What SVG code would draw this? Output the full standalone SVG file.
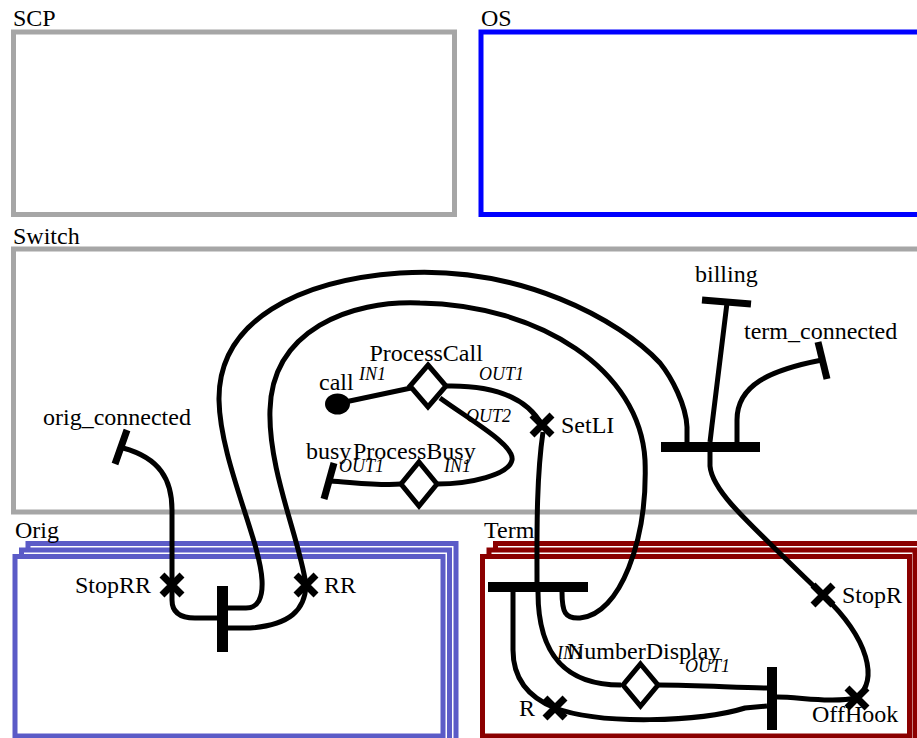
<svg xmlns="http://www.w3.org/2000/svg" width="917" height="738" viewBox="0 0 917 738" font-family="'Liberation Serif', 'DejaVu Serif', serif">
<style>
text{font-family:'Liberation Serif','DejaVu Serif',serif}
.lbl{font-size:24px;fill:#000}
.port{font-size:18px;font-style:italic;fill:#000}
.c{fill:none;stroke:#000;stroke-width:5}
.dia{fill:#fff;stroke:#000;stroke-width:5}
.x{fill:none;stroke:#000;stroke-width:7}
.t{fill:none;stroke:#000;stroke-width:7}
.gray{fill:#fff;stroke:#a6a6a6;stroke-width:5}
.os{fill:#fff;stroke:#0000ff;stroke-width:5}
.orig{fill:#fff;stroke:#5b5bc7;stroke-width:5}
.term{fill:#fff;stroke:#8b0000;stroke-width:5}
</style>
<g id="SCP">
<rect class="gray" x="13.5" y="32" width="441" height="182.5"/>
<text class="lbl" x="13" y="26">SCP</text>
</g>
<g id="OS">
<rect class="os" x="481" y="32" width="450" height="182.5"/>
<text class="lbl" x="481" y="26">OS</text>
</g>
<g id="Switch">
<rect class="gray" x="13.5" y="249" width="920" height="263"/>
<text class="lbl" x="13" y="244">Switch</text>
</g>
<g id="Orig">
<rect class="orig" x="28" y="543.5" width="428" height="200"/>
<rect class="orig" x="21.5" y="550" width="428" height="200"/>
<rect class="orig" x="15" y="556.5" width="428" height="179.5"/>
<text class="lbl" x="15" y="538">Orig</text>
</g>
<g id="Term">
<rect class="term" x="495.5" y="543.5" width="428" height="200"/>
<rect class="term" x="489" y="550" width="426" height="200"/>
<rect class="term" x="482.5" y="556.5" width="427" height="179.5"/>
<text class="lbl" x="484" y="538">Term</text>
</g>
<g id="connectors">
<path class="c" d="M345 402 L411 388"/>
<path class="c" d="M446 386 C490 385 525 395 542 425"/>
<path class="c" d="M440 398 C470 420 515 445 512 460 C509 475 470 484 437 484"/>
<path class="c" d="M401 484 C380 486 350 482 330 481"/>
<path class="c" d="M123 448 C160 458 172 480 172 510 L172 585"/>
<path class="c" d="M172 585 L172 600 C172 612 180 618 195 618 L218 618"/>
<path class="c" d="M306 585 C305 610 290 625 250 628 L226 628"/>
<path class="c" d="M226 608 L246 608 C258 608 263 598 262 580 C260 540 220 460 219 400 C218 320 300 280 400 273 C520 265 620 320 660 363 C672 378 686 405 687 427 L687 442"/>
<path class="c" d="M306 585 C300 540 268 470 270 410 C272 330 350 300 420 303 C540 305 640 370 645 460 C648 540 620 615 580 618 C565 619 562 612 562 592"/>
<path class="c" d="M727 303 L712 425 L710 442"/>
<path class="c" d="M822 360 C770 370 737 385 737 420 L737 442"/>
<path class="c" d="M710 452 L710 466 C712 490 740 515 823 595"/>
<path class="c" d="M823 595 C870 640 878 680 857 698"/>
<path class="c" d="M543 432 C536 480 537 540 537 582"/>
<path class="c" d="M538 592 C538 660 570 685 621 685"/>
<path class="c" d="M513 592 L513 650 C513 680 530 698 555 708"/>
<path class="c" d="M658 685 C700 685 740 688 767 688"/>
<path class="c" d="M555 708 C600 725 700 722 745 708 L767 706"/>
<path class="c" d="M777 697 C800 697 830 703 857 698"/>
</g>
<g id="call">
<ellipse cx="337.5" cy="404" rx="12.5" ry="10.5" fill="#000"/>
<text class="lbl" x="319" y="390">call</text>
</g>
<g id="ProcessCall">
<polygon class="dia" points="428,365 446,386 428,407 410,386"/>
<text class="lbl" x="369.5" y="360.5">ProcessCall</text>
<text class="port" x="359" y="380">IN1</text>
<text class="port" x="479" y="380">OUT1</text>
<text class="port" x="466" y="421.5">OUT2</text>
</g>
<g id="ProcessBusy">
<polygon class="dia" points="419,462 437,484 419,506 401,484"/>
<text class="lbl" x="353" y="459">ProcessBusy</text>
<text class="port" x="339" y="471.5">OUT1</text>
<text class="port" x="444" y="471.5">IN1</text>
</g>
<g id="busy">
<path class="t" d="M334 463 L324 499"/>
<text class="lbl" x="306" y="459">busy</text>
</g>
<g id="SetLI">
<path class="x" d="M532 415 L552 435 M532 435 L552 415"/>
<text class="lbl" x="561" y="433">SetLI</text>
</g>
<g id="orig_connected">
<path class="t" d="M127 430 L115 464"/>
<text class="lbl" x="43" y="425">orig_connected</text>
</g>
<g id="billing">
<path class="t" d="M702 300 L751 304"/>
<text class="lbl" x="695" y="282">billing</text>
</g>
<g id="term_connected">
<path class="t" d="M818 342 L827 379"/>
<text class="lbl" x="744" y="339">term_connected</text>
</g>
<g id="switch_join">
<rect x="661" y="442" width="99" height="10" fill="#000"/>
</g>
<g id="orig_join">
<rect x="217" y="586" width="11" height="66" fill="#000"/>
</g>
<g id="StopRR">
<path class="x" d="M162 575 L182 595 M162 595 L182 575"/>
<text class="lbl" x="75" y="593">StopRR</text>
</g>
<g id="RR">
<path class="x" d="M296 575 L316 595 M296 595 L316 575"/>
<text class="lbl" x="324" y="593">RR</text>
</g>
<g id="term_join">
<rect x="488" y="582" width="100" height="10" fill="#000"/>
</g>
<g id="StopR">
<path class="x" d="M813 585 L833 605 M813 605 L833 585"/>
<text class="lbl" x="842" y="603">StopR</text>
</g>
<g id="OffHook">
<path class="x" d="M847 688 L867 708 M847 708 L867 688"/>
<text class="lbl" x="812" y="722">OffHook</text>
</g>
<g id="R">
<path class="x" d="M545 698 L565 718 M545 718 L565 698"/>
<text class="lbl" x="519" y="716">R</text>
</g>
<g id="NumberDisplay">
<polygon class="dia" points="640.5,664 658,685 640.5,706 623,685"/>
<text class="port" x="557" y="659">IN1</text>
<text class="lbl" x="567" y="659">NumberDisplay</text>
<text class="port" x="685" y="672">OUT1</text>
</g>
<g id="nd_join">
<rect x="767" y="667" width="10" height="63" fill="#000"/>
</g>
</svg>
